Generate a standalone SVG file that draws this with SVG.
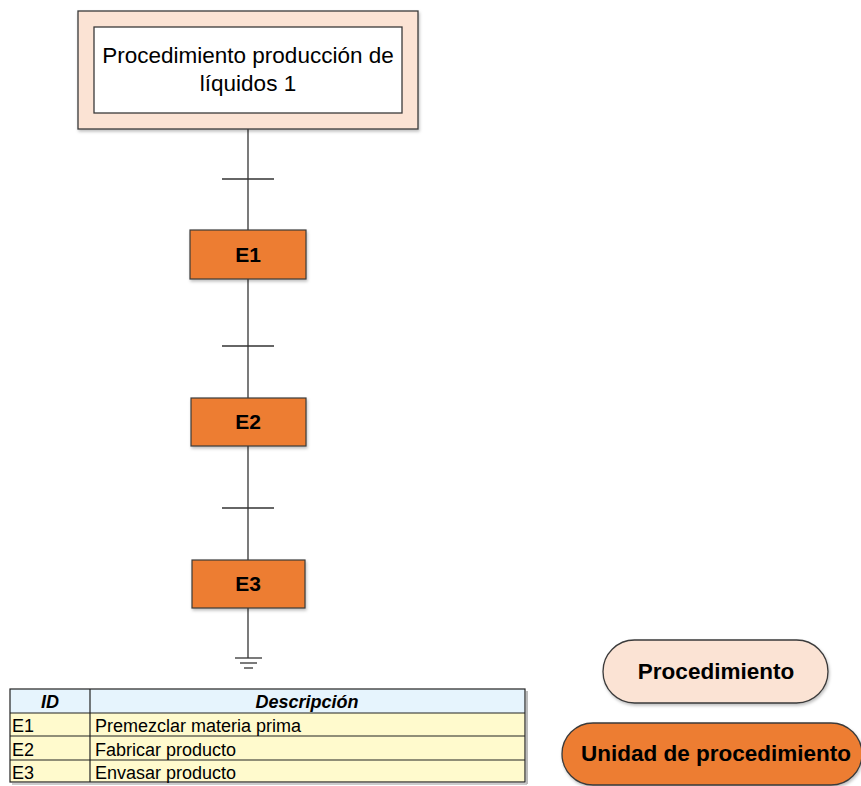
<svg xmlns="http://www.w3.org/2000/svg" width="861" height="786" viewBox="0 0 861 786">
  <style>
    .txt { font-family: "Liberation Sans", Arial, sans-serif; fill: #000; }
    .step { fill: #ED7D31; stroke: #3a3a3a; stroke-width: 1.2; }
    .step-label { font-family: "Liberation Sans", Arial, sans-serif; font-weight: bold; font-size: 21px; text-anchor: middle; }
    .wire { stroke: #333; stroke-width: 1.3; fill: none; }
    .cell { font-family: "Liberation Sans", Arial, sans-serif; font-size: 18px; }
    .grid { stroke: #222; stroke-width: 1.2; fill: none; }
  </style>
  <defs>
    <filter id="shadow" x="-10%" y="-10%" width="130%" height="140%">
      <feDropShadow dx="1" dy="2" stdDeviation="1.5" flood-color="#000" flood-opacity="0.25"/>
    </filter>
  </defs>
  <rect width="861" height="786" fill="#fff"/>

  <!-- connectors: main chain with transitions and end symbol -->
  <g id="connectors">
    <line class="wire" x1="248" y1="129" x2="248" y2="230"/>
    <line class="wire" x1="222" y1="179" x2="274" y2="179"/>
    <line class="wire" x1="248" y1="279" x2="248" y2="398"/>
    <line class="wire" x1="222" y1="346" x2="274" y2="346"/>
    <line class="wire" x1="248" y1="446" x2="248" y2="560"/>
    <line class="wire" x1="222" y1="508" x2="274" y2="508"/>
    <line class="wire" x1="248" y1="608" x2="248" y2="658"/>
    <line class="wire" x1="235" y1="658" x2="262" y2="658"/>
    <line class="wire" x1="240" y1="663" x2="257" y2="663"/>
    <line class="wire" x1="244" y1="668" x2="253" y2="668" stroke="#888"/>
  </g>

  <!-- procedure header node -->
  <g id="procedure">
    <rect x="78" y="11" width="340" height="118" fill="#FBE3D4" stroke="#3a3a3a" stroke-width="1.3" filter="url(#shadow)"/>
    <rect x="94" y="27" width="308" height="86" fill="#fff" stroke="#3a3a3a" stroke-width="1.3"/>
    <text class="txt" x="248" y="63" font-size="22.5" text-anchor="middle">Procedimiento producción de</text>
    <text class="txt" x="248" y="91" font-size="22.5" text-anchor="middle">líquidos 1</text>
  </g>

  <g id="E1">
    <rect class="step" x="190" y="230" width="116" height="49" filter="url(#shadow)"/>
    <text class="step-label" x="248" y="262">E1</text>
  </g>
  <g id="E2">
    <rect class="step" x="191" y="398" width="115" height="48" filter="url(#shadow)"/>
    <text class="step-label" x="248" y="429">E2</text>
  </g>
  <g id="E3">
    <rect class="step" x="192" y="560" width="113" height="48" filter="url(#shadow)"/>
    <text class="step-label" x="248" y="591">E3</text>
  </g>

  <!-- description table -->
  <g id="table">
    <rect x="10" y="689" width="515" height="24" fill="#E6F4FD"/>
    <rect x="10" y="713" width="515" height="69" fill="#FFFACD"/>
    <rect class="grid" x="10" y="689" width="515" height="93" stroke-width="1.6"/>
    <line class="grid" x1="10" y1="713" x2="525" y2="713"/>
    <line class="grid" x1="10" y1="736" x2="525" y2="736"/>
    <line class="grid" x1="10" y1="760" x2="525" y2="760" stroke-width="2"/>
    <line class="grid" x1="90" y1="689" x2="90" y2="782"/>
    <line x1="12" y1="784" x2="527" y2="784" stroke="#ccc" stroke-width="2"/>
    <line x1="527" y1="691" x2="527" y2="784" stroke="#bbb" stroke-width="2"/>
    <text class="cell" x="50" y="708" font-weight="bold" font-style="italic" text-anchor="middle">ID</text>
    <text class="cell" x="307" y="708" font-weight="bold" font-style="italic" text-anchor="middle">Descripción</text>
    <text class="cell" x="12" y="732">E1</text>
    <text class="cell" x="95" y="732">Premezclar materia prima</text>
    <text class="cell" x="12" y="756">E2</text>
    <text class="cell" x="95" y="756">Fabricar producto</text>
    <text class="cell" x="12" y="779">E3</text>
    <text class="cell" x="95" y="779">Envasar producto</text>
  </g>

  <!-- legend -->
  <g id="legend-procedimiento">
    <rect x="603" y="640" width="225" height="63" rx="31.5" fill="#FBE3D4" stroke="#3a3a3a" stroke-width="1.3" filter="url(#shadow)"/>
    <text class="txt" x="716" y="679" font-size="22.5" font-weight="bold" text-anchor="middle">Procedimiento</text>
  </g>
  <g id="legend-unidad">
    <rect x="562" y="723" width="300" height="62" rx="31" fill="#ED7D31" stroke="#3a3a3a" stroke-width="1.3" filter="url(#shadow)"/>
    <text class="txt" x="716" y="761" font-size="22.5" font-weight="bold" text-anchor="middle">Unidad de procedimiento</text>
  </g>
</svg>
